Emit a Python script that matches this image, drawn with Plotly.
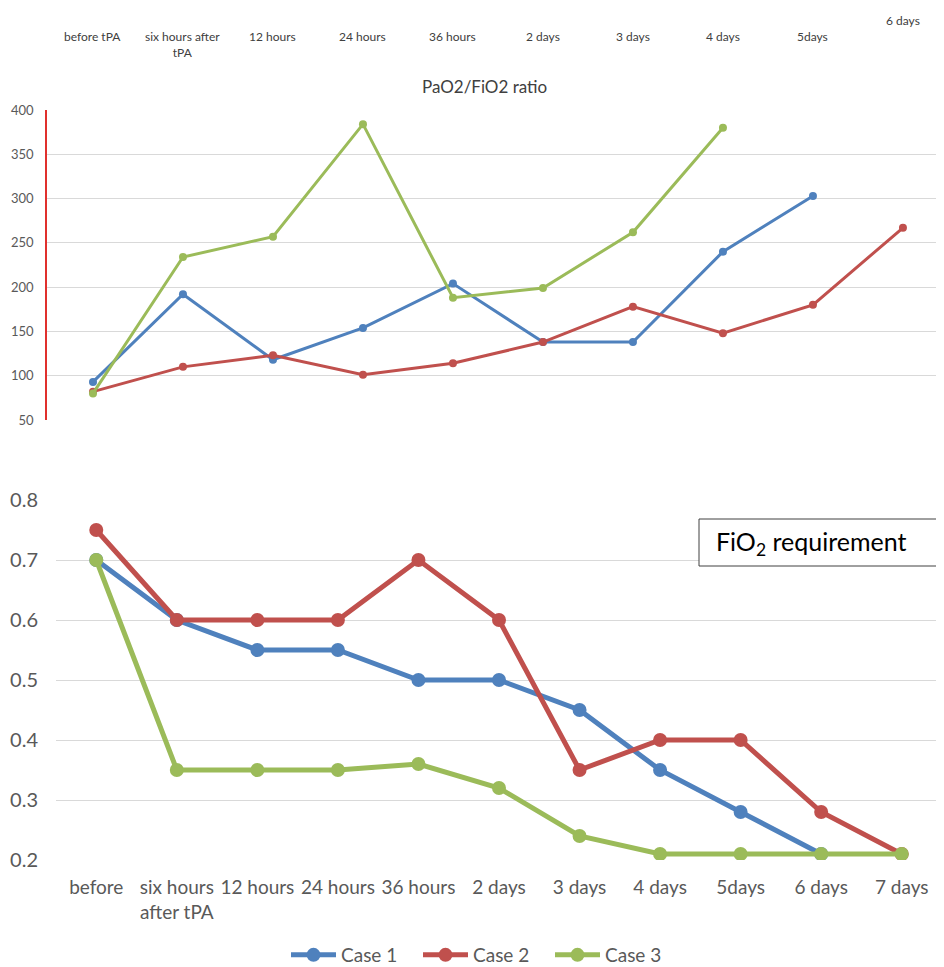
import plotly.graph_objects as go

# ---------------- data ----------------
top_categories = ["before tPA", "six hours after<br>tPA", "12 hours", "24 hours", "36 hours",
                  "2 days", "3 days", "4 days", "5days", "6 days"]
pf_case1 = [93, 192, 118, 154, 204, 138, 138, 240, 303, None]
pf_case2 = [82, 110, 123, 101, 114, 138, 178, 148, 180, 267]
pf_case3 = [80, 234, 257, 384, 188, 199, 262, 380, None, None]

bottom_categories = ["before", "six hours<br>after tPA", "12 hours", "24 hours", "36 hours",
                     "2 days", "3 days", "4 days", "5days", "6 days", "7 days"]
fio2_case1 = [0.70, 0.60, 0.55, 0.55, 0.50, 0.50, 0.45, 0.35, 0.28, 0.21, None]
fio2_case2 = [0.75, 0.60, 0.60, 0.60, 0.70, 0.60, 0.35, 0.40, 0.40, 0.28, 0.21]
fio2_case3 = [0.70, 0.35, 0.35, 0.35, 0.36, 0.32, 0.24, 0.21, 0.21, 0.21, 0.21]

series_names = ["Case 1", "Case 2", "Case 3"]
colors = ["#4F81BD", "#C0504D", "#9BBB59"]

top_title = "PaO2/FiO2 ratio"
box_label = "FiO<sub>2</sub> requirement"

# ---------------- figure ----------------
W, H = 944, 967
OFF = 8  # page body margin
FONT = "Lato, 'Open Sans', sans-serif"
GREY = "#595959"


def px(p):
    """screen pixel column -> paper x"""
    return (p - OFF) / W


def py(p):
    """screen pixel row -> paper y"""
    return 1 - (p - OFF) / H


fig = go.Figure()

for name, vals, col in zip(series_names, [pf_case1, pf_case2, pf_case3], colors):
    fig.add_trace(go.Scatter(x=top_categories, y=vals, name=name, mode="lines+markers",
                             line=dict(color=col, width=3), marker=dict(color=col, size=8),
                             xaxis="x", yaxis="y", showlegend=False, connectgaps=False))

for name, vals, col in zip(series_names, [fio2_case1, fio2_case2, fio2_case3], colors):
    fig.add_trace(go.Scatter(x=bottom_categories, y=vals, name=name, mode="lines+markers",
                             line=dict(color=col, width=5), marker=dict(color=col, size=14),
                             xaxis="x2", yaxis="y2", showlegend=True))

# top chart x labels (placed above the chart)
annotations = []
for i, lab in enumerate(top_categories):
    annotations.append(dict(x=lab, xref="x", y=py(27 if i < len(top_categories) - 1 else 11),
                            yref="paper", yanchor="top", xanchor="center", showarrow=False,
                            text=lab, font=dict(family=FONT, size=12, color="#404040")))

annotations.append(dict(x=px(484), xref="paper", y=py(86), yref="paper", yanchor="middle",
                        xanchor="center", showarrow=False, text=top_title,
                        font=dict(family=FONT, size=17, color="#404040")))

annotations.append(dict(x=px(714), xref="paper", y=py(543), yref="paper", yanchor="middle",
                        xanchor="left", showarrow=False, text=box_label,
                        font=dict(family=FONT, size=25, color="black")))

shapes = [dict(type="rect", xref="paper", yref="paper", x0=px(699), x1=1.02,
               y0=py(566), y1=py(519), line=dict(color="#404040", width=1),
               fillcolor="white", layer="above")]

fig.update_layout(
    width=W, height=H, autosize=False,
    margin=dict(l=0, r=0, t=0, b=0, autoexpand=False),
    paper_bgcolor="white", plot_bgcolor="white",
    font=dict(family=FONT, color=GREY),
    xaxis=dict(domain=[px(47), 1.0], range=[-0.511, 9.545], type="category",
               showgrid=False, showticklabels=False, zeroline=False, showline=False,
               anchor="y"),
    yaxis=dict(domain=[py(420), py(110)], range=[50, 400], dtick=50,
               showgrid=True, gridcolor="#d9d9d9", gridwidth=1, zeroline=False,
               showline=True, linecolor="#e0302d", linewidth=1.5,
               ticks="", ticklabelstandoff=9,
               tickfont=dict(family=FONT, size=13, color=GREY), anchor="x"),
    xaxis2=dict(domain=[px(56), px(942)], range=[-0.5, 10.5], type="category",
                showgrid=False, zeroline=False, showline=False, ticks="",
                tickfont=dict(family=FONT, size=19, color=GREY),
                ticklabelstandoff=14, anchor="y2"),
    yaxis2=dict(domain=[py(860), py(500)], range=[0.2, 0.8], dtick=0.1, tickformat=".1f",
                showgrid=True, gridcolor="#d9d9d9", gridwidth=1, zeroline=False,
                showline=False, ticks="", ticklabelstandoff=17,
                tickfont=dict(family=FONT, size=20, color=GREY), anchor="x2"),
    legend=dict(orientation="h", x=px(484), xanchor="center", y=py(955), yanchor="middle",
                itemwidth=45, entrywidth=72, entrywidthmode="pixels",
                font=dict(family=FONT, size=19, color=GREY), bgcolor="rgba(0,0,0,0)"),
    annotations=annotations,
    shapes=shapes,
)

fig.write_html("out.html")
